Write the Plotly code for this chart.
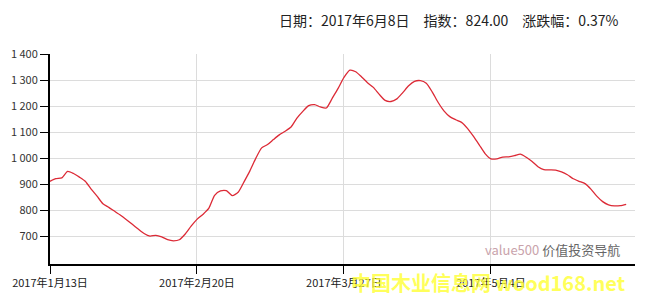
import plotly.graph_objects as go

# index values (trading-day positions)
values = [912, 922, 925, 950, 942, 928, 912, 882, 855, 826,
          812, 797, 782, 765, 747, 729, 712, 702, 705, 699,
          688, 684, 688, 710, 740, 766, 785, 808, 858, 875,
          876, 857, 870, 910, 952, 1000, 1040, 1053, 1072, 1090,
          1104, 1120, 1154, 1180, 1202, 1206, 1197, 1193, 1230, 1268,
          1310, 1338, 1332, 1312, 1290, 1272, 1245, 1222, 1218, 1228,
          1252, 1278, 1295, 1298, 1288, 1255, 1215, 1182, 1160, 1148,
          1138, 1115, 1085, 1052, 1018, 998, 998, 1005, 1006, 1010,
          1016, 1004, 988, 968, 957, 956, 955, 948, 937, 922,
          912, 903, 882, 855, 834, 822, 818, 819, 824]
positions = list(range(len(values)))
tick_positions = [0, 25, 50, 75]
tick_labels = ["2017年1月13日", "2017年2月20日", "2017年3月27日", "2017年5月4日"]
y_ticks = [700, 800, 900, 1000, 1100, 1200, 1300, 1400]
y_labels = ["700", "800", "900", "1 000", "1 100", "1 200", "1 300", "1 400"]

FONT = "Noto Sans CJK SC, Noto Sans, sans-serif"

fig = go.Figure()
fig.add_trace(go.Scatter(
    x=positions, y=values, mode="lines",
    line=dict(color="#dc2a36", width=1.3, shape="spline", smoothing=0.6),
    hoverinfo="skip", showlegend=False,
))

fig.update_layout(
    width=646, height=308,
    margin=dict(l=48, r=11, t=54, b=44),
    paper_bgcolor="white", plot_bgcolor="white",
    font=dict(family=FONT, size=11, color="#333"),
    xaxis=dict(
        range=[0, 99.5], tickmode="array", tickvals=tick_positions, ticktext=tick_labels,
        showgrid=True, gridcolor="#dcdcdc", gridwidth=1,
        showline=True, linecolor="black", linewidth=2,
        ticks="outside", ticklen=8, tickcolor="black", tickwidth=1,
        tickfont=dict(size=11, color="#222"), zeroline=False, fixedrange=True,
    ),
    yaxis=dict(
        range=[595, 1400], tickmode="array", tickvals=y_ticks, ticktext=y_labels,
        showgrid=True, gridcolor="#dcdcdc", gridwidth=1,
        showline=True, linecolor="black", linewidth=2,
        ticks="outside", ticklen=8, tickcolor="black", tickwidth=1,
        tickfont=dict(size=11, color="#333"), zeroline=False, fixedrange=True,
    ),
    annotations=[
        dict(text="日期：2017年6月8日　指数：824.00　涨跌幅：0.37%",
             xref="paper", yref="paper", x=0.976, y=1.162, xanchor="right", yanchor="middle",
             showarrow=False, font=dict(size=14, color="#222", family=FONT)),
        dict(text="<span style='color:#c9a3ab'>value500</span> 价值投资导航",
             xref="paper", yref="paper", x=0.978, y=0.067, xanchor="right", yanchor="middle",
             showarrow=False, font=dict(size=13, color="#666", family=FONT)),
        dict(text="<b>中国木业信息网 wood168.net</b>",
             xref="paper", yref="paper", x=0.988, y=-0.09, xanchor="right", yanchor="middle",
             showarrow=False, opacity=0.8, font=dict(size=20, color="#ffff33", family=FONT)),
    ],
)

fig.write_html("out.html")
